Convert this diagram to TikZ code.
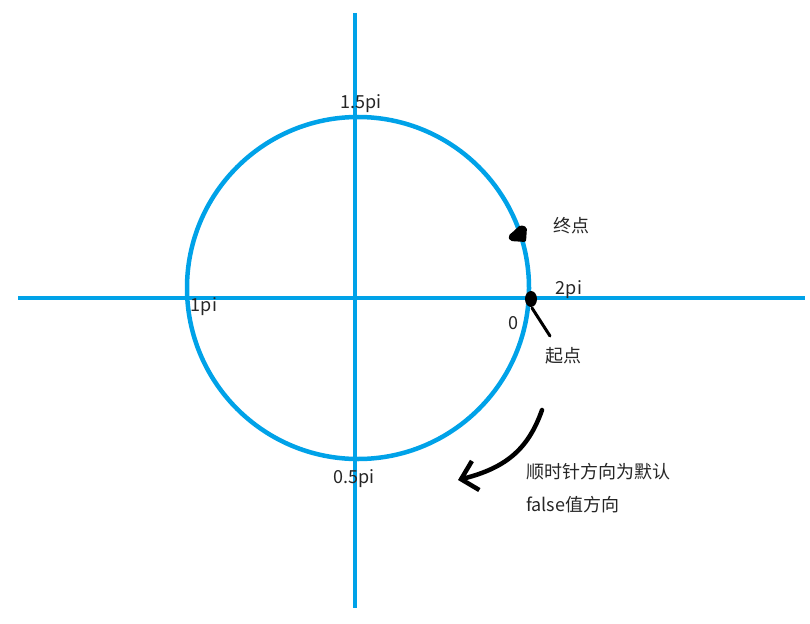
\documentclass[tikz,border=0pt]{standalone}
\usepackage{fontspec}
\setmainfont{Noto Sans CJK SC}
\usetikzlibrary{arrows.meta}
\definecolor{paintblue}{RGB}{0,162,232}

\begin{document}
\begin{tikzpicture}[x=1pt, y=-1pt,
  every node/.style={font=\fontsize{18}{21}\selectfont, inner sep=0pt, text=black!85},
  axis/.style={paintblue, line width=4.5pt},
  pen/.style={black, line width=4pt, line cap=round, line join=round}]

\useasboundingbox (0,0) rectangle (810,623);

% --------- Axes and unit circle ----------
\coordinate (W) at (18,298);
\coordinate (E) at (805,298);
\coordinate (N) at (355,13);
\coordinate (S) at (355,608);
\coordinate (C) at (358,288);   % circle centre (hand drawn, a bit off)

\draw[axis] (W) -- (E);
\draw[axis] (N) -- (S);
\draw[axis] (C) circle (171);

% --------- Angle labels ----------
\node (lblA) at (361,104) {1.5pi};
\node (lblB) at (204,307) {1pi};
\node (lblC) at (354,479) {0.5pi};
\node (lblD) at (569,290) {2pi};
\node (lblZ) at (513,323) {0};

% --------- Start and end marks ----------
\coordinate (start) at (531,299);
\fill[black] (start) ellipse (6 and 8);
\fill[black, rounded corners=2pt]
  (520,225) -- (527,227) -- (526,242) -- (510,241) -- (508,236) -- (515,230) -- cycle;

\node (endL)   at (571,226) {终点};
\node (startL) at (563,356) {起点};

\coordinate (p1) at (532,308);
\coordinate (p2) at (550,336);
\draw[pen, line width=3pt] (p1) -- (p2);

% --------- Direction hint ----------
\coordinate (arrS) at (542,410);
\coordinate (arrT) at (458,480);
\draw[pen, line width=4.5pt, -{Straight Barb[length=15pt, width=30pt]}]
  (arrS) .. controls (528,450) and (505,468) .. (arrT);

\node[anchor=west] (note1) at (526,472) {顺时针方向为默认};
\node[anchor=west] (note2) at (526,505) {false值方向};

\end{tikzpicture}
\end{document}
